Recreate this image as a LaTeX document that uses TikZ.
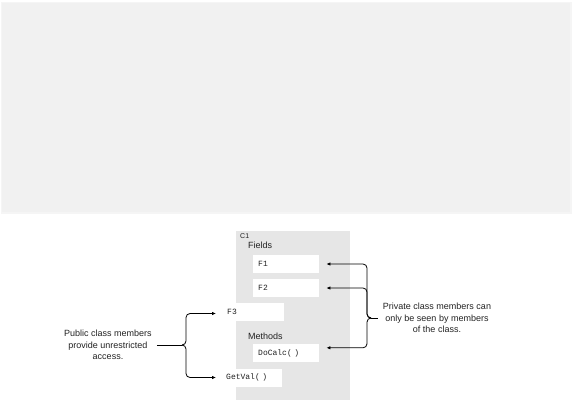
\documentclass[tikz,border=0pt]{standalone}
\usepackage{fontspec}
\setmainfont{Liberation Sans}
\setmonofont{Liberation Mono}
\usetikzlibrary{arrows.meta,calc,positioning}
\definecolor{BannerGray}{HTML}{F1F1F1}
\definecolor{BannerEdge}{HTML}{F5F5F5}
\definecolor{PanelGray}{HTML}{E6E6E6}
\definecolor{InkGray}{HTML}{222222}
\tikzset{
  banner/.style={fill=BannerGray,draw=BannerEdge,line width=1.5pt},
  panel/.style={fill=PanelGray},
  membox/.style={fill=white,anchor=west,minimum height=18pt,inner xsep=5pt,
    align=left,font=\fontsize{8}{9}\selectfont\ttfamily,text=InkGray},
  seclabel/.style={anchor=west,inner sep=0pt,font=\fontsize{9}{10}\selectfont,text=InkGray},
  note/.style={align=center,inner sep=1pt,font=\fontsize{9}{11.5}\selectfont,text=InkGray},
  link/.style={draw=black,line width=.8pt,rounded corners=4pt},
  pointer/.style={link,-{Latex[length=4pt,width=3.5pt]},shorten >=7pt}
}
\begin{document}
\begin{tikzpicture}[x=1pt,y=-1pt]
  \useasboundingbox (0,0) rectangle (573,400);
  \draw[banner] (1.5,2.5) rectangle (571,213);

  % class outline
  \fill[panel] (236,231) rectangle (350,400);
  \node[seclabel,font=\fontsize{7}{8}\selectfont] (cname) at (240,236) {C1};
  \node[seclabel] (fields) at (248,245) {Fields};
  \node[seclabel] (methods) at (248,336) {Methods};

  \node[membox,text width=56pt] (f1) at (253,264) {F1};
  \node[membox,text width=56pt] (f2) at (253,288) {F2};
  \node[membox,text width=53pt,inner xsep=4pt] (f3) at (223,311.5) {F3};
  \node[membox,text width=56pt] (docalc) at (253,353) {DoCalc( )};
  \node[membox,text width=53pt,inner xsep=3pt] (getval) at (223,377.5) {GetVal( )};

  % notes
  \node[note] (pubnote) at (108,345)
    {Public class members\\provide unrestricted\\access.};
  \node[note] (privnote) at (437,318)
    {Private class members can\\only be seen by members\\of the class.};

  % braces
  \coordinate (lbrace) at (182,345);
  \coordinate (rbrace) at (371,318);
  \draw[link] (pubnote.east) ++(4,0) -- (lbrace);
  \draw[pointer] (lbrace) -- ++(4,0) |- ([yshift=-2pt]f3.west);
  \draw[pointer] (lbrace) -- ++(4,0) |- (getval.west);
  \draw[link] (privnote.west) ++(-4,0) -- (rbrace);
  \draw[pointer] (rbrace) -- ++(-4,0) |- (f1.east);
  \draw[pointer] (rbrace) -- ++(-4,0) |- (f2.east);
  \draw[pointer] (rbrace) -- ++(-4,0) |- ([yshift=-4pt]docalc.north east);
\end{tikzpicture}
\end{document}
